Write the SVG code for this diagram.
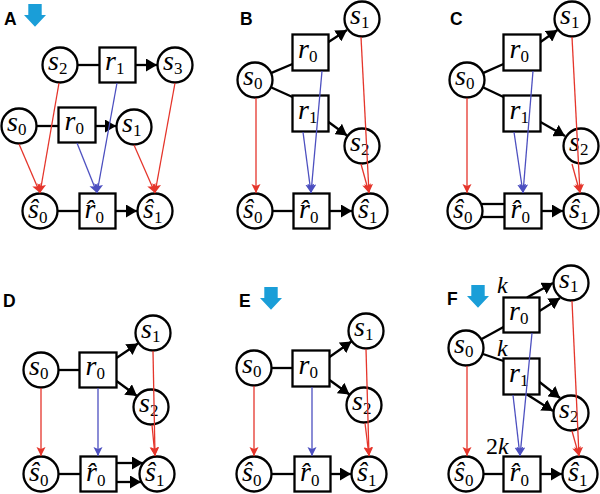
<svg xmlns="http://www.w3.org/2000/svg" width="600" height="494" viewBox="0 0 600 494">
<style>
.nd circle,.nd rect{fill:#fff;stroke:#000;stroke-width:2.3}
.k line{stroke:#000;stroke-width:2.3;fill:none}
.k line.a{marker-end:url(#ab)}
.k line.r{stroke:#e5352b;stroke-width:1.3;marker-end:url(#ar)}
.k line.b{stroke:#4c4fc0;stroke-width:1.3;marker-end:url(#abl)}
.lt{font-family:"Liberation Serif","Times New Roman",serif;font-size:28px;fill:#000}
.it{font-style:italic}
.sb{font-size:17px;font-style:normal}
.pl{font-family:"Liberation Sans",Arial,sans-serif;font-weight:bold;font-size:17.5px}
.kl{font-family:"Liberation Serif","Times New Roman",serif;font-size:24px}
.ic{fill:#1a9ed8}
</style>
<defs>
<marker id="ab" markerUnits="userSpaceOnUse" markerWidth="12" markerHeight="13" refX="11" refY="6.5" orient="auto"><path d="M0,0 L11,6.5 L0,13 z" fill="#000"/></marker>
<marker id="ar" markerUnits="userSpaceOnUse" markerWidth="10" markerHeight="10" refX="9" refY="4.5" orient="auto"><path d="M0,0 L9,4.5 L0,9 L2,4.5 z" fill="#e5352b"/></marker>
<marker id="abl" markerUnits="userSpaceOnUse" markerWidth="10" markerHeight="10" refX="9" refY="4.5" orient="auto"><path d="M0,0 L9,4.5 L0,9 L2,4.5 z" fill="#4c4fc0"/></marker>
<path id="dn" d="M4.3,0 H17.7 V11 H22 L11,22.7 L0,11 H4.3 Z"/>
</defs>

<g id="labels">
<text class="pl" x="4" y="25">A</text>
<text class="pl" x="240" y="25">B</text>
<text class="pl" x="450" y="25">C</text>
<text class="pl" x="3" y="307">D</text>
<text class="pl" x="239" y="307">E</text>
<text class="pl" x="447" y="305">F</text>
<use href="#dn" class="ic" x="24" y="4"/>
<use href="#dn" class="ic" x="260" y="287"/>
<use href="#dn" class="ic" x="467" y="285"/>
<text class="kl" x="497" y="293"><tspan class="it">k</tspan></text>
<text class="kl" x="497" y="356"><tspan class="it">k</tspan></text>
<text class="kl" x="486" y="454">2<tspan class="it">k</tspan></text>
</g>

<!-- Panel A -->
<g id="A-s2" class="nd"><circle cx="60" cy="65" r="17.5"/><text class="lt" x="48" y="70"><tspan class="it">s</tspan><tspan class="sb" dy="4">2</tspan></text></g>
<g id="A-r1" class="nd"><rect x="99.5" y="47.5" width="36" height="35"/><text class="lt" x="105" y="70"><tspan class="it">r</tspan><tspan class="sb" dy="4">1</tspan></text></g>
<g id="A-s3" class="nd"><circle cx="175" cy="65" r="17.5"/><text class="lt" x="163" y="70"><tspan class="it">s</tspan><tspan class="sb" dy="4">3</tspan></text></g>
<g id="A-s0" class="nd"><circle cx="19" cy="126" r="17.5"/><text class="lt" x="7" y="131"><tspan class="it">s</tspan><tspan class="sb" dy="4">0</tspan></text></g>
<g id="A-r0" class="nd"><rect x="58.5" y="107.5" width="37" height="35"/><text class="lt" x="64.5" y="130"><tspan class="it">r</tspan><tspan class="sb" dy="4">0</tspan></text></g>
<g id="A-s1" class="nd"><circle cx="134" cy="127" r="17.5"/><text class="lt" x="122" y="132"><tspan class="it">s</tspan><tspan class="sb" dy="4">1</tspan></text></g>
<g id="A-hs0" class="nd"><circle cx="40" cy="211" r="17.5"/><text class="lt" x="28" y="218"><tspan class="it">ŝ</tspan><tspan class="sb" dy="5">0</tspan></text></g>
<g id="A-hr0" class="nd"><rect x="79.5" y="193.5" width="36" height="35"/><text class="lt" x="84.5" y="218"><tspan class="it">r̂</tspan><tspan class="sb" dy="5">0</tspan></text></g>
<g id="A-hs1" class="nd"><circle cx="155" cy="211" r="17.5"/><text class="lt" x="143" y="218"><tspan class="it">ŝ</tspan><tspan class="sb" dy="5">1</tspan></text></g>

<!-- Panel B -->
<g id="B-s1" class="nd"><circle cx="362" cy="19" r="17.5"/><text class="lt" x="350" y="24"><tspan class="it">s</tspan><tspan class="sb" dy="4">1</tspan></text></g>
<g id="B-r0" class="nd"><rect x="292.5" y="34.5" width="36" height="36"/><text class="lt" x="298" y="57.5"><tspan class="it">r</tspan><tspan class="sb" dy="4">0</tspan></text></g>
<g id="B-s0" class="nd"><circle cx="255" cy="80" r="17.5"/><text class="lt" x="243" y="85"><tspan class="it">s</tspan><tspan class="sb" dy="4">0</tspan></text></g>
<g id="B-r1" class="nd"><rect x="292.5" y="95.5" width="36" height="36"/><text class="lt" x="298" y="118.5"><tspan class="it">r</tspan><tspan class="sb" dy="4">1</tspan></text></g>
<g id="B-s2" class="nd"><circle cx="362" cy="146" r="17.5"/><text class="lt" x="350" y="151"><tspan class="it">s</tspan><tspan class="sb" dy="4">2</tspan></text></g>
<g id="B-hs0" class="nd"><circle cx="255" cy="211" r="17.5"/><text class="lt" x="243" y="218"><tspan class="it">ŝ</tspan><tspan class="sb" dy="5">0</tspan></text></g>
<g id="B-hr0" class="nd"><rect x="293.5" y="193.5" width="36" height="35"/><text class="lt" x="299" y="218"><tspan class="it">r̂</tspan><tspan class="sb" dy="5">0</tspan></text></g>
<g id="B-hs1" class="nd"><circle cx="370" cy="211" r="17.5"/><text class="lt" x="358" y="218"><tspan class="it">ŝ</tspan><tspan class="sb" dy="5">1</tspan></text></g>

<!-- Panel C -->
<g id="C-s1" class="nd"><circle cx="572" cy="19" r="17.5"/><text class="lt" x="560" y="24"><tspan class="it">s</tspan><tspan class="sb" dy="4">1</tspan></text></g>
<g id="C-r0" class="nd"><rect x="503.5" y="34.5" width="37" height="36"/><text class="lt" x="509.5" y="57.5"><tspan class="it">r</tspan><tspan class="sb" dy="4">0</tspan></text></g>
<g id="C-s0" class="nd"><circle cx="467" cy="80" r="17.5"/><text class="lt" x="455" y="85"><tspan class="it">s</tspan><tspan class="sb" dy="4">0</tspan></text></g>
<g id="C-r1" class="nd"><rect x="503.5" y="95.5" width="37" height="36"/><text class="lt" x="509.5" y="118.5"><tspan class="it">r</tspan><tspan class="sb" dy="4">1</tspan></text></g>
<g id="C-s2" class="nd"><circle cx="581" cy="146" r="17.5"/><text class="lt" x="569" y="151"><tspan class="it">s</tspan><tspan class="sb" dy="4">2</tspan></text></g>
<g id="C-hs0" class="nd"><circle cx="465" cy="211" r="17.5"/><text class="lt" x="453" y="218"><tspan class="it">ŝ</tspan><tspan class="sb" dy="5">0</tspan></text></g>
<g id="C-hr0" class="nd"><rect x="504.5" y="193.5" width="37" height="35"/><text class="lt" x="510.5" y="218"><tspan class="it">r̂</tspan><tspan class="sb" dy="5">0</tspan></text></g>
<g id="C-hs1" class="nd"><circle cx="581" cy="211" r="17.5"/><text class="lt" x="569" y="218"><tspan class="it">ŝ</tspan><tspan class="sb" dy="5">1</tspan></text></g>

<!-- Panel D -->
<g id="D-s1" class="nd"><circle cx="153" cy="333" r="17.5"/><text class="lt" x="141" y="338"><tspan class="it">s</tspan><tspan class="sb" dy="4">1</tspan></text></g>
<g id="D-s0" class="nd"><circle cx="41" cy="370" r="17.5"/><text class="lt" x="29" y="375"><tspan class="it">s</tspan><tspan class="sb" dy="4">0</tspan></text></g>
<g id="D-r0" class="nd"><rect x="79.5" y="352.5" width="37" height="35"/><text class="lt" x="85.5" y="375"><tspan class="it">r</tspan><tspan class="sb" dy="4">0</tspan></text></g>
<g id="D-s2" class="nd"><circle cx="151" cy="407" r="17.5"/><text class="lt" x="139" y="412"><tspan class="it">s</tspan><tspan class="sb" dy="4">2</tspan></text></g>
<g id="D-hs0" class="nd"><circle cx="41" cy="474" r="17.5"/><text class="lt" x="29" y="481"><tspan class="it">ŝ</tspan><tspan class="sb" dy="5">0</tspan></text></g>
<g id="D-hr0" class="nd"><rect x="80.5" y="456.5" width="36" height="35"/><text class="lt" x="86" y="481"><tspan class="it">r̂</tspan><tspan class="sb" dy="5">0</tspan></text></g>
<g id="D-hs1" class="nd"><circle cx="157" cy="474" r="17.5"/><text class="lt" x="145" y="481"><tspan class="it">ŝ</tspan><tspan class="sb" dy="5">1</tspan></text></g>

<!-- Panel E -->
<g id="E-s1" class="nd"><circle cx="366" cy="331" r="17.5"/><text class="lt" x="354" y="336"><tspan class="it">s</tspan><tspan class="sb" dy="4">1</tspan></text></g>
<g id="E-s0" class="nd"><circle cx="254" cy="368" r="17.5"/><text class="lt" x="242" y="373"><tspan class="it">s</tspan><tspan class="sb" dy="4">0</tspan></text></g>
<g id="E-r0" class="nd"><rect x="292.5" y="350.5" width="37" height="36"/><text class="lt" x="298.5" y="373.5"><tspan class="it">r</tspan><tspan class="sb" dy="4">0</tspan></text></g>
<g id="E-s2" class="nd"><circle cx="364" cy="405" r="17.5"/><text class="lt" x="352" y="410"><tspan class="it">s</tspan><tspan class="sb" dy="4">2</tspan></text></g>
<g id="E-hs0" class="nd"><circle cx="254" cy="474" r="17.5"/><text class="lt" x="242" y="481"><tspan class="it">ŝ</tspan><tspan class="sb" dy="5">0</tspan></text></g>
<g id="E-hr0" class="nd"><rect x="294.5" y="456.5" width="36" height="35"/><text class="lt" x="300" y="481"><tspan class="it">r̂</tspan><tspan class="sb" dy="5">0</tspan></text></g>
<g id="E-hs1" class="nd"><circle cx="369" cy="474" r="17.5"/><text class="lt" x="357" y="481"><tspan class="it">ŝ</tspan><tspan class="sb" dy="5">1</tspan></text></g>

<!-- Panel F -->
<g id="F-s1" class="nd"><circle cx="571" cy="283" r="17.5"/><text class="lt" x="559" y="288"><tspan class="it">s</tspan><tspan class="sb" dy="4">1</tspan></text></g>
<g id="F-r0" class="nd"><rect x="503.5" y="297.5" width="36" height="35"/><text class="lt" x="509" y="320"><tspan class="it">r</tspan><tspan class="sb" dy="4">0</tspan></text></g>
<g id="F-s0" class="nd"><circle cx="466" cy="348" r="17.5"/><text class="lt" x="454" y="353"><tspan class="it">s</tspan><tspan class="sb" dy="4">0</tspan></text></g>
<g id="F-r1" class="nd"><rect x="503.5" y="358.5" width="36" height="36"/><text class="lt" x="509" y="381.5"><tspan class="it">r</tspan><tspan class="sb" dy="4">1</tspan></text></g>
<g id="F-s2" class="nd"><circle cx="571" cy="413" r="17.5"/><text class="lt" x="559" y="418"><tspan class="it">s</tspan><tspan class="sb" dy="4">2</tspan></text></g>
<g id="F-hs0" class="nd"><circle cx="466" cy="474" r="17.5"/><text class="lt" x="454" y="481"><tspan class="it">ŝ</tspan><tspan class="sb" dy="5">0</tspan></text></g>
<g id="F-hr0" class="nd"><rect x="503.5" y="456.5" width="37" height="35"/><text class="lt" x="509.5" y="481"><tspan class="it">r̂</tspan><tspan class="sb" dy="5">0</tspan></text></g>
<g id="F-hs1" class="nd"><circle cx="580" cy="474" r="17.5"/><text class="lt" x="568" y="481"><tspan class="it">ŝ</tspan><tspan class="sb" dy="5">1</tspan></text></g>

<g id="connectors" class="k">
<!-- A -->
<line x1="78" y1="65" x2="99.5" y2="65"/>
<line class="a" x1="135.5" y1="65" x2="157" y2="65"/>
<line x1="37" y1="126" x2="58.5" y2="126"/>
<line class="a" x1="95.5" y1="126" x2="116" y2="126"/>
<line x1="58" y1="211" x2="79.5" y2="211"/>
<line class="a" x1="115.5" y1="211" x2="137" y2="211"/>
<line class="r" x1="59" y1="83" x2="40" y2="193"/>
<line class="r" x1="19" y1="144" x2="40" y2="193"/>
<line class="r" x1="175" y1="83" x2="155" y2="193"/>
<line class="r" x1="134" y1="145" x2="155" y2="193"/>
<line class="b" x1="117" y1="83" x2="97" y2="193"/>
<line class="b" x1="77" y1="143" x2="97" y2="193"/>
<!-- B -->
<line x1="271.5" y1="72.9" x2="292.5" y2="64"/>
<line x1="271.4" y1="87.5" x2="292.5" y2="97"/>
<line class="a" x1="328.5" y1="42" x2="347" y2="30"/>
<line class="a" x1="328.5" y1="122" x2="347" y2="135.5"/>
<line x1="273" y1="211" x2="293.5" y2="211"/>
<line class="a" x1="329.5" y1="211" x2="352" y2="211"/>
<line class="r" x1="256" y1="98" x2="256" y2="193"/>
<line class="r" x1="361" y1="37" x2="369" y2="193"/>
<line class="r" x1="361" y1="164" x2="369" y2="193"/>
<line class="b" x1="322" y1="71" x2="311" y2="193"/>
<line class="b" x1="303" y1="132" x2="311" y2="193"/>
<!-- C -->
<line x1="483.5" y1="72.9" x2="503.5" y2="64"/>
<line x1="483.4" y1="87.5" x2="503.5" y2="97"/>
<line class="a" x1="540.5" y1="42" x2="557.5" y2="30"/>
<line class="a" x1="540.5" y1="122" x2="565" y2="136"/>
<line x1="481.6" y1="204" x2="504.5" y2="204"/>
<line x1="482" y1="217" x2="504.5" y2="217"/>
<line class="a" x1="541.5" y1="211" x2="563" y2="211"/>
<line class="r" x1="467" y1="98" x2="467" y2="193"/>
<line class="r" x1="572" y1="37" x2="580" y2="193"/>
<line class="r" x1="572" y1="164" x2="580" y2="193"/>
<line class="b" x1="533" y1="71" x2="523" y2="193"/>
<line class="b" x1="514" y1="132" x2="523" y2="193"/>
<!-- D -->
<line x1="59" y1="370" x2="79.5" y2="370"/>
<line class="a" x1="116.5" y1="358" x2="138" y2="343.5"/>
<line class="a" x1="116.5" y1="381" x2="137" y2="396"/>
<line x1="59" y1="474" x2="80.5" y2="474"/>
<line class="a" x1="116.5" y1="463" x2="143" y2="463"/>
<line class="a" x1="116.5" y1="482" x2="141" y2="482"/>
<line class="r" x1="41" y1="388" x2="41" y2="456"/>
<line class="r" x1="153" y1="351" x2="155" y2="456"/>
<line class="r" x1="152" y1="425" x2="155" y2="456"/>
<line class="b" x1="98" y1="388" x2="98" y2="456"/>
<!-- E -->
<line x1="272" y1="368" x2="292.5" y2="368"/>
<line class="a" x1="329.5" y1="357" x2="351.5" y2="341.5"/>
<line class="a" x1="329.5" y1="380" x2="349.5" y2="394.5"/>
<line x1="272" y1="474" x2="294.5" y2="474"/>
<line class="a" x1="330.5" y1="474" x2="351" y2="474"/>
<line class="r" x1="254" y1="386" x2="254" y2="456"/>
<line class="r" x1="366" y1="349" x2="369" y2="456"/>
<line class="r" x1="365" y1="423" x2="369" y2="456"/>
<line class="b" x1="312" y1="387" x2="312" y2="456"/>
<!-- F -->
<line x1="481.7" y1="339" x2="503.5" y2="327"/>
<line x1="483" y1="354" x2="503.5" y2="361"/>
<line class="a" x1="527" y1="297.5" x2="553" y2="283"/>
<line class="a" x1="539.5" y1="311" x2="560" y2="298"/>
<line class="a" x1="539.5" y1="382" x2="560" y2="398"/>
<line class="a" x1="527" y1="394.5" x2="553" y2="411"/>
<line x1="484" y1="474" x2="503.5" y2="474"/>
<line class="a" x1="540.5" y1="474" x2="562" y2="474"/>
<line class="r" x1="467" y1="366" x2="467" y2="456"/>
<line class="r" x1="572" y1="301" x2="579" y2="456"/>
<line class="r" x1="572" y1="431" x2="579" y2="456"/>
<line class="b" x1="532" y1="333" x2="520" y2="456"/>
<line class="b" x1="513" y1="395" x2="520" y2="456"/>
</g>
</svg>
